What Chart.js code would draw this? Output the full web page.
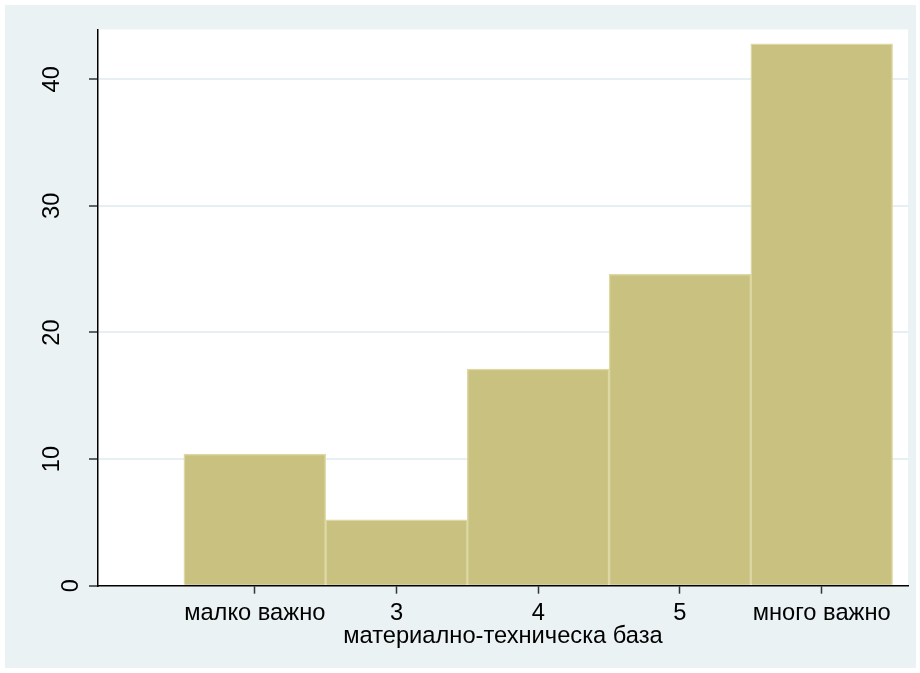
<!DOCTYPE html>
<html>
<head>
<meta charset="utf-8">
<script src="https://cdn.jsdelivr.net/npm/chart.js@4.4.1/dist/chart.umd.min.js"></script>
<style>
    body { margin: 0; background: #fff; }
    canvas { display: block; }
</style>
</head>
<body>
<canvas id="hist" width="920" height="673"></canvas>
<script>
// histogram of "материално-техническа база", percent per answer
var binCenters = [2, 3, 4, 5, 6];
var percents = [10.4, 5.2, 17.1, 24.6, 42.8];
var xTickLabels = ['малко важно', '3', '4', '5', 'много важно'];
var yTickValues = [0, 10, 20, 30, 40];
var xTitle = 'материално-техническа база';

var FONT = "'Liberation Sans', Arial, sans-serif";

// stata-ish panel: light outer region, white plot region
var panelBg = {
    id: 'panelBg',
    beforeDraw: function (chart) {
        var c = chart.ctx, a = chart.chartArea;
        c.save();
        c.fillStyle = '#ffffff';
        c.fillRect(0, 0, chart.width, chart.height);
        c.fillStyle = '#EAF2F3';
        c.fillRect(5, 5, 911, 663);
        c.fillStyle = '#ffffff';
        c.fillRect(a.left, a.top, a.right - a.left, a.bottom - a.top);
        c.restore();
    }
};

// y labels are vertical in the original
var verticalYLabels = {
    id: 'verticalYLabels',
    afterDraw: function (chart) {
        var c = chart.ctx, y = chart.scales.y;
        c.save();
        c.font = '23.7px ' + FONT;
        c.fillStyle = '#000';
        c.textAlign = 'center';
        c.textBaseline = 'middle';
        y.ticks.forEach(function (t) {
            var txt = String(t.value);
            var cx = y.right - 27 - (txt.length - 1) * 19;
            var cy = y.getPixelForValue(t.value);
            c.save();
            c.translate(cx, cy);
            c.rotate(-Math.PI / 2);
            c.fillText(txt, 0, 0);
            c.restore();
        });
        c.restore();
    }
};

var ctx = document.getElementById('hist').getContext('2d');
var myChart = new Chart(ctx, {
    type: 'bar',
    data: {
        datasets: [{
            label: 'percent',
            data: binCenters.map(function (v, i) { return { x: v, y: percents[i] }; }),
            backgroundColor: '#C9C17F',
            borderColor: '#DCD7A3',
            borderWidth: 1.5,
            barPercentage: 1,
            categoryPercentage: 1
        }]
    },
    plugins: [panelBg, verticalYLabels],
    options: {
        responsive: false,
        animation: false,
        layout: {
            padding: { top: 29.5, right: 12, left: 0, bottom: 0 }
        },
        plugins: {
            legend: { display: false },
            tooltip: { enabled: false }
        },
        scales: {
            x: {
                type: 'linear',
                offset: false,
                min: 0.894,
                max: 6.609,
                afterBuildTicks: function (scale) {
                    scale.ticks = binCenters.map(function (v) { return { value: v }; });
                },
                afterFit: function (scale) {
                    scale.height = 87.3;
                },
                grid: {
                    offset: false,
                    drawOnChartArea: false,
                    drawTicks: true,
                    tickLength: 8,
                    tickColor: '#333',
                    tickWidth: 1.5
                },
                border: { display: true, color: '#000', width: 1.5 },
                ticks: {
                    autoSkip: false,
                    maxRotation: 0,
                    padding: 6,
                    color: '#000',
                    font: { family: FONT, size: 23.7 },
                    callback: function (value) {
                        var i = binCenters.indexOf(value);
                        return i >= 0 ? xTickLabels[i] : '';
                    }
                },
                title: {
                    display: true,
                    text: xTitle,
                    color: '#000',
                    font: { family: FONT, size: 23.7 },
                    padding: { top: 0, bottom: 22 }
                }
            },
            y: {
                min: 0,
                max: 43.93,
                afterBuildTicks: function (scale) {
                    scale.ticks = yTickValues.map(function (v) { return { value: v }; });
                },
                afterFit: function (scale) {
                    scale.width = 98;
                },
                grid: {
                    color: function (c) {
                        return c.tick && c.tick.value === 0 ? 'rgba(0,0,0,0)' : '#E6EFF1';
                    },
                    lineWidth: 2,
                    drawTicks: true,
                    tickLength: 9,
                    tickColor: '#333',
                    tickWidth: 1.5
                },
                border: { display: true, color: '#000', width: 1.5 },
                ticks: { display: false }
            }
        }
    }
});
</script>
</body>
</html>
